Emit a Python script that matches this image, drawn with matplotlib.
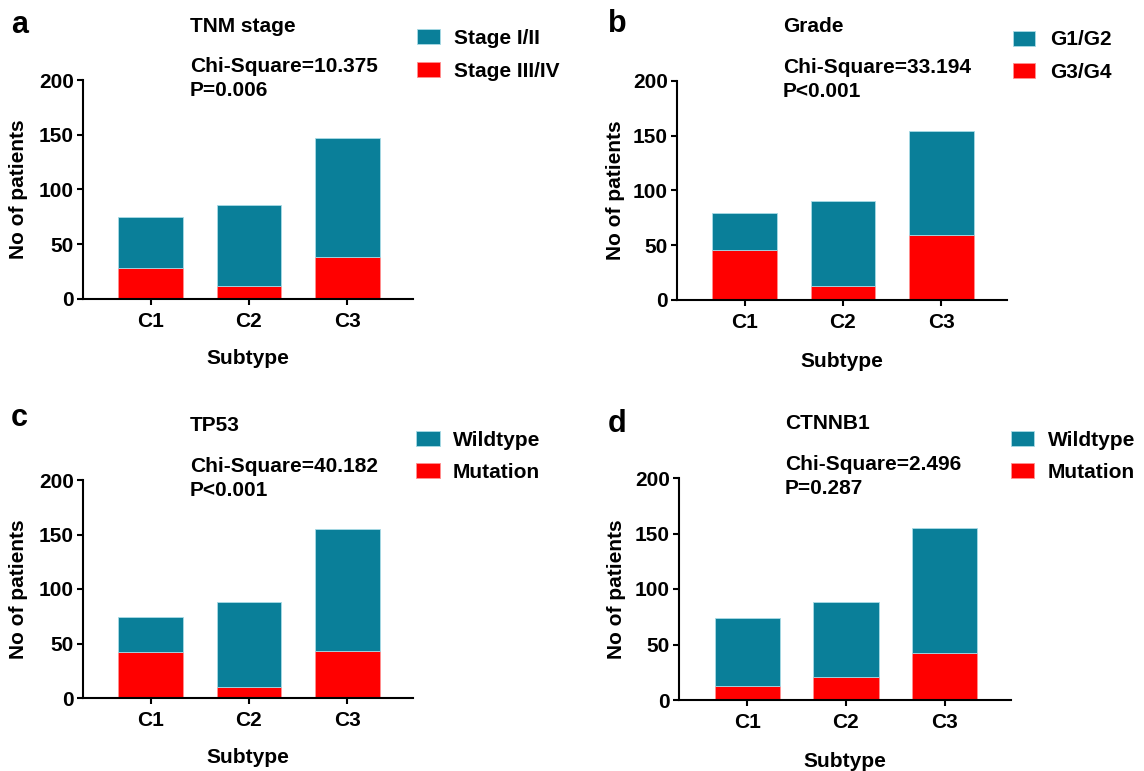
import matplotlib
matplotlib.use("Agg")
import matplotlib.pyplot as plt
from matplotlib.patches import Rectangle

plt.rcParams['font.family'] = ['Liberation Sans', 'DejaVu Sans']
plt.rcParams['font.weight'] = 'bold'
plt.rcParams['axes.labelweight'] = 'bold'

# Data (counts of patients per subtype)
subtypes = ['C1', 'C2', 'C3']

tnm_early = [47, 74, 109]     # Stage I/II
tnm_late = [28, 12, 38]       # Stage III/IV

grade_low = [33, 77, 95]      # G1/G2
grade_high = [46, 13, 59]     # G3/G4

tp53_wt = [32, 78, 112]
tp53_mut = [42, 10, 43]

ctnnb1_wt = [61, 67, 113]
ctnnb1_mut = [13, 21, 42]

TEAL = '#0a7f99'
RED = '#ff0000'

W, H = 1144, 771
fig = plt.figure(figsize=(W / 100, H / 100), dpi=100)


def fx(x):
    return x / W


def fy(y):
    return 1 - y / H


panels = [
    # letter, title, stat, p, legend labels, bottom series, top series,
    # axes box (left, top, right, bottom) in pixels, text offsets
    dict(letter='a', title='TNM stage', chi='Chi-Square=10.375', p='P=0.006',
         labels=['Stage I/II', 'Stage III/IV'], low=tnm_late, high=tnm_early,
         box=(83, 80, 413, 299), ylab=-0.167, xlab=-0.228,
         letter_xy=(11, 33), title_xy=(190, 32), chi_y=72, p_y=96,
         leg_x=(417, 440, 454), leg_y=(29, 62), leg_base=(44, 77)),
    dict(letter='b', title='Grade', chi='Chi-Square=33.194', p='P<0.001',
         labels=['G1/G2', 'G3/G4'], low=grade_high, high=grade_low,
         box=(677, 81, 1007, 300), ylab=-0.158, xlab=-0.237,
         letter_xy=(608, 32), title_xy=(783, 32), chi_y=73, p_y=97,
         leg_x=(1013, 1035, 1050), leg_y=(31, 63), leg_base=(45, 78)),
    dict(letter='c', title='TP53', chi='Chi-Square=40.182', p='P<0.001',
         labels=['Wildtype', 'Mutation'], low=tp53_mut, high=tp53_wt,
         box=(83, 480, 413, 698), ylab=-0.167, xlab=-0.229,
         letter_xy=(11, 426), title_xy=(190, 431), chi_y=472, p_y=496,
         leg_x=(416, 440, 453), leg_y=(431, 463), leg_base=(446, 478)),
    dict(letter='d', title='CTNNB1', chi='Chi-Square=2.496', p='P=0.287',
         labels=['Wildtype', 'Mutation'], low=ctnnb1_mut, high=ctnnb1_wt,
         box=(679, 478, 1011, 700), ylab=-0.16, xlab=-0.234,
         letter_xy=(608, 432), title_xy=(785, 429), chi_y=470, p_y=494,
         leg_x=(1011, 1034, 1048), leg_y=(431, 463), leg_base=(446, 478)),
]

for pn in panels:
    l, t, r, b = pn['box']
    ax = fig.add_axes([fx(l), fy(b), (r - l) / W, (b - t) / H])
    xs = range(len(subtypes))
    ax.bar(xs, pn['low'], width=0.66, color=RED, edgecolor='#ff9090',
           linewidth=0.6)
    ax.bar(xs, pn['high'], width=0.66, bottom=pn['low'], color=TEAL,
           edgecolor='#a8dbe6', linewidth=0.6)

    ax.set_xlim(-0.69, 2.67)
    ax.set_ylim(0, 200)
    ax.set_yticks([0, 50, 100, 150, 200])
    ax.set_xticks(list(xs))
    ax.set_xticklabels(subtypes)
    ax.spines['top'].set_visible(False)
    ax.spines['right'].set_visible(False)
    for s in ('left', 'bottom'):
        ax.spines[s].set_linewidth(1.5)
    ax.tick_params(axis='both', length=4.5, width=1.5, labelsize=15)
    ax.tick_params(axis='y', pad=2)
    ax.tick_params(axis='x', pad=5)

    ax.set_ylabel('No of patients', fontsize=15)
    ax.set_xlabel('Subtype', fontsize=15)
    ax.yaxis.set_label_coords(pn['ylab'], 0.5)
    ax.xaxis.set_label_coords(0.5, pn['xlab'])

    # panel letter, title and statistics
    lx, ly = pn['letter_xy']
    fig.text(fx(lx), fy(ly), pn['letter'], fontsize=22, va='baseline')
    tx, ty = pn['title_xy']
    fig.text(fx(tx), fy(ty), pn['title'], fontsize=15, va='baseline')
    fig.text(fx(tx), fy(pn['chi_y']), pn['chi'], fontsize=15, va='baseline')
    fig.text(fx(tx), fy(pn['p_y']), pn['p'], fontsize=15, va='baseline')

    # legend
    x0, x1, xt = pn['leg_x']
    for col, yt, base, lab in zip([TEAL, RED], pn['leg_y'], pn['leg_base'],
                                  pn['labels']):
        ec = '#a8dbe6' if col == TEAL else '#ff9090'
        fig.add_artist(Rectangle((fx(x0), fy(yt + 15)), (x1 - x0) / W, 15 / H,
                                 transform=fig.transFigure, facecolor=col,
                                 edgecolor=ec, linewidth=0.6))
        fig.text(fx(xt), fy(base), lab, fontsize=15, va='baseline')

fig.savefig('out.png', dpi=100)
